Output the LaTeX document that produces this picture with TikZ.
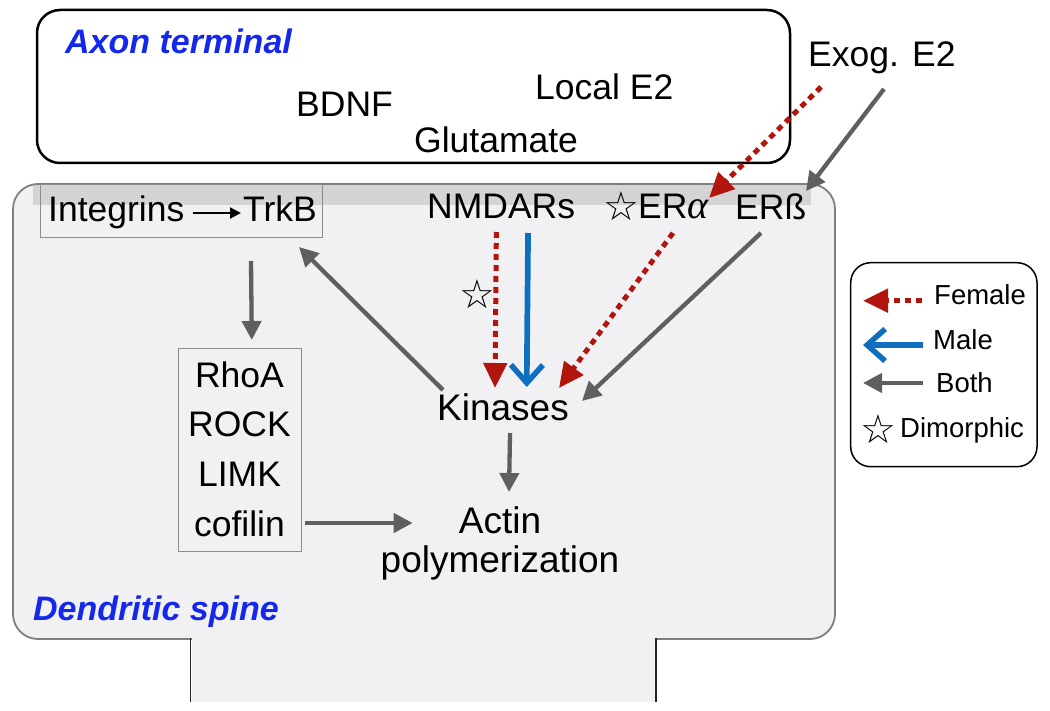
\documentclass[tikz,border=0pt]{standalone}
\usepackage{fontspec}
\setmainfont{Liberation Sans}
\newfontfamily\djv{DejaVu Sans}
\newfontfamily\greekit{Liberation Serif}
\usetikzlibrary{arrows.meta,calc}
\definecolor{redc}{RGB}{178,20,14}
\definecolor{bluec}{RGB}{16,110,190}
\definecolor{grayc}{RGB}{95,95,95}
\definecolor{lblue}{RGB}{20,40,235}
\definecolor{spinefill}{RGB}{241,241,244}
\definecolor{bandc}{RGB}{212,212,212}
\newcommand\myfs[1]{\fontsize{#1}{#1}\selectfont}
\begin{document}
\begin{tikzpicture}[x=1pt,y=-1pt,
  txt/.style={inner sep=0pt, font=\myfs{35.5}},
  bigtxt/.style={inner sep=0pt, font=\myfs{37}},
  legtxt/.style={inner sep=0pt, font=\myfs{27.5}},
  ttl/.style={inner sep=0pt, font=\myfs{34}\bfseries\itshape, text=lblue},
  starnode/.style={inner sep=0pt, font=\djv\myfs{40}},
  grayarrow/.style={draw=grayc, line width=4.3pt, -{Triangle[length=19pt,width=19pt]}},
  redarrow/.style={draw=redc, line width=5pt, dash pattern=on 6pt off 5pt, -{Triangle[length=25pt,width=23pt]}},
  bluearrow/.style={draw=bluec, line width=5.7pt, -{Straight Barb[length=18pt,width=32pt,line width=5.5pt]}},
  blackarrow/.style={draw=black, line width=2pt, -{Triangle[length=11pt,width=11pt]}}
]
\useasboundingbox (0,0) rectangle (1050,711);

% axon terminal
\draw[line width=2.5pt, rounded corners=23pt] (37,10) rectangle (790,163);
\node[ttl, anchor=base west] (axon) at (65,54) {Axon terminal};
\node[txt, anchor=base west] (bdnf) at (296,117) {BDNF};
\node[txt, anchor=base west] (locale) at (535,100) {Local E2};
\node[txt, anchor=base west] (glut) at (414,153) {Glutamate};
\node[txt, anchor=base west] (exog) at (808,67) {Exog. E2};

% dendritic spine
\fill[spinefill, rounded corners=25pt] (13,184) rectangle (835,639);
\fill[bandc] (33,185) rectangle (811,205);
\draw[grayc!80, line width=1.8pt, rounded corners=25pt] (13,184) rectangle (835,639);
\fill[spinefill] (191.5,636) rectangle (655.2,702);
\draw[black!85, line width=1.5pt] (190.7,638) -- (190.7,702);
\draw[black!85, line width=1.5pt] (656,638) -- (656,702);
\node[ttl, anchor=base west] (spine) at (33,620) {Dendritic spine};

% integrins box
\node[draw=black!45, line width=1.2pt, inner sep=0pt, minimum width=281.7pt, minimum height=53pt, anchor=north west] (intbox) at (40,184) {};
\node[txt, anchor=base west] (integrins) at (48,222) {Integrins};
\node[txt, anchor=base west] (trkb) at (243,222) {TrkB};

\node[txt, anchor=base west] (nmdars) at (427,219) {NMDARs};
\node[starnode] (s1) at (621,206) {☆};
\node[txt, anchor=base west] (era) at (638,219) {ER{\greekit\itshape\fontsize{40}{40}\selectfont α}};
\node[txt, anchor=base west] (erb) at (735,220) {ERß};

% RhoA box
\node[draw=black!45, line width=1.2pt, inner sep=0pt, minimum width=123pt, minimum height=203pt, anchor=north west] (rhobox) at (177.7,348) {};
\node[txt, anchor=base] (rhoa) at (239.5,388) {RhoA};
\node[txt, anchor=base] (rock) at (239.5,436) {ROCK};
\node[txt, anchor=base] (limk) at (239.5,486) {LIMK};
\node[txt, anchor=base] (cofilin) at (239.5,536) {cofilin};

\node[bigtxt, anchor=base west] (kinases) at (437,420) {Kinases};
\node[bigtxt, anchor=base] (actin) at (500,533) {Actin};
\node[bigtxt, anchor=base] (poly) at (500,572) {polymerization};
\node[starnode] (s2) at (477,294) {☆};

% connectors
\draw[blackarrow] ($(integrins.base east)+(8,-9)$) -- ($(trkb.base west)+(-2,-9)$);
\draw[grayarrow] ($(trkb.base west)+(8,39)$) -- ($(rhobox.north)+(12,-8)$);
\draw[grayarrow] ($(kinases.base west)+(6,-30)$) -- ($(trkb.base west)+(56,25)$);
\draw[redarrow] ($(nmdars.base)+(-4.8,13)$) -- ($(kinases.base)+(-8,-32)$);
\draw[bluearrow] ($(nmdars.base)+(26.9,14)$) -- ($(kinases.base)+(23.7,-33)$);
\draw[redarrow] ($(era.base west)+(35,14)$) -- ($(kinases.base)+(56,-32)$);
\draw[grayarrow] ($(erb.base west)+(26,13)$) -- ($(kinases.base)+(79,-19)$);
\draw[redarrow] ($(exog.base west)+(13,20)$) -- ($(era.base west)+(71,-21)$);
\draw[grayarrow] ($(exog.base west)+(76,22)$) -- ($(erb.base west)+(71,-29)$);
\draw[grayarrow] ($(kinases.base)+(7,13)$) -- ($(actin.base)+(9,-41)$);
\draw[grayarrow] ($(cofilin.base east)+(20,-13)$) -- ($(actin.base west)+(-46,-10)$);

% legend
\draw[line width=1.5pt, rounded corners=20pt] (850.7,262.7) rectangle (1037,466.7);
\node[legtxt, anchor=base west] (female) at (934,305) {Female};
\node[legtxt, anchor=base west] (male) at (933,350) {Male};
\node[legtxt, anchor=base west] (bothl) at (936,392) {Both};
\node[legtxt, anchor=base west] (dimo) at (900,437) {Dimorphic};
\node[starnode] (s3) at (878,429) {☆};
\draw[redarrow] ($(female.base west)+(-12,-4.3)$) -- ($(female.base west)+(-71,-4.3)$);
\draw[bluearrow] ($(male.base west)+(-10,-5)$) -- ($(male.base west)+(-70,-5)$);
\draw[grayarrow] ($(bothl.base west)+(-13,-9)$) -- ($(bothl.base west)+(-73,-9)$);
\end{tikzpicture}
\end{document}
